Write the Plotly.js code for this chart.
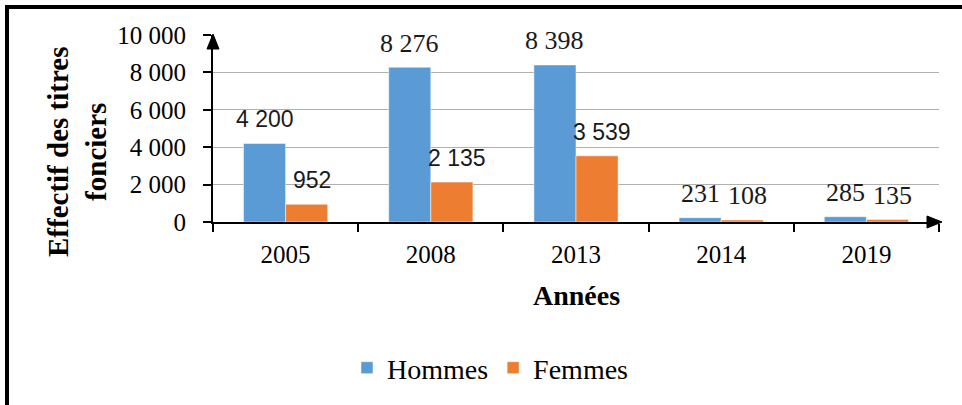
<!DOCTYPE html>
<html>
<head>
<meta charset="utf-8">
<script src="https://cdn.plot.ly/plotly-3.0.1.min.js"></script>
<style>
  html, body { margin: 0; padding: 0; background: #fff; }
  #chart { width: 962px; height: 405px; }
</style>
</head>
<body>
<div id="chart"></div>
<script>
// ---- data ----
const years = ['2005', '2008', '2013', '2014', '2019'];
const hommes = [4200, 8276, 8398, 231, 285];
const femmes = [952, 2135, 3539, 108, 135];
const yTickVals = [0, 2000, 4000, 6000, 8000, 10000];
const seriesNames = ['Hommes', 'Femmes'];
const yTitle = 'Effectif des titres<br>fonciers';
const xTitle = 'Années';

// ---- styles ----
const colors = ['#5B9BD5', '#ED7D31'];
const SERIF = 'Liberation Serif, Times New Roman, serif';
const SANS = 'Liberation Sans, Arial, sans-serif';
// label font per point (style, not data)
const labelFamH = [SANS, SERIF, SERIF, SERIF, SERIF];
const labelFamF = [SANS, SANS, SANS, SERIF, SERIF];

// ---- geometry ----
const FW = 962, FH = 405;
const L = 213, R = 23, T = 35, B = 183;
const PW = FW - L - R, PH = FH - T - B;
const px2x = px => (px - L) / PW;
const py2y = py => (FH - B - py) / PH;
const bargap = 0.42;
const barHalf = PW / years.length * (1 - bargap) / 4;

function fmt(v) {
  return String(v).replace(/\B(?=(\d{3})+(?!\d))/g, ' ');
}

const traces = [
  { type: 'bar', name: seriesNames[0], x: years, y: hommes,
    marker: { color: colors[0], line: { color: '#ffffff', width: 0.5 } } },
  { type: 'bar', name: seriesNames[1], x: years, y: femmes,
    marker: { color: colors[1], line: { color: '#ffffff', width: 0.5 } } }
];

const annotations = [];
[[hommes, -1, labelFamH, 0], [femmes, 1, labelFamF, 5]].forEach(([vals, side, fams, dx]) => {
  vals.forEach((v, i) => {
    annotations.push({
      xref: 'x', yref: 'y', x: i, y: v,
      xshift: side * barHalf + dx, yshift: 24,
      xanchor: 'center', yanchor: 'middle',
      text: fmt(v), showarrow: false,
      font: { family: fams[i], size: fams[i] === SANS ? 23 : 26, color: '#1a1a1a' }
    });
  });
});
// y-axis title
annotations.push({
  xref: 'paper', yref: 'paper', x: px2x(77), y: py2y(152),
  xanchor: 'center', yanchor: 'middle', textangle: -90,
  text: '<b>' + yTitle + '</b>', showarrow: false,
  font: { family: SERIF, size: 29, color: '#000' }
});
// x-axis title
annotations.push({
  xref: 'paper', yref: 'paper', x: 0.5, y: py2y(295),
  xanchor: 'center', yanchor: 'middle',
  text: '<b>' + xTitle + '</b>', showarrow: false,
  font: { family: SERIF, size: 28, color: '#000' }
});

const shapes = [
  // frame: top and left thick borders
  { type: 'rect', xref: 'paper', yref: 'paper',
    x0: px2x(5), x1: px2x(962), y0: py2y(5), y1: py2y(9),
    fillcolor: '#000', line: { width: 0 } },
  { type: 'rect', xref: 'paper', yref: 'paper',
    x0: px2x(5), x1: px2x(9), y0: py2y(5), y1: py2y(405),
    fillcolor: '#000', line: { width: 0 } },
  // y-axis arrowhead
  { type: 'path', xref: 'paper', yref: 'paper',
    path: `M ${px2x(207)} ${py2y(49)} L ${px2x(213)} ${py2y(34)} L ${px2x(219)} ${py2y(49)} Z`,
    fillcolor: '#000', line: { color: '#000', width: 1 } },
  // x-axis arrowhead
  { type: 'path', xref: 'paper', yref: 'paper',
    path: `M ${px2x(927)} ${py2y(216)} L ${px2x(942)} ${py2y(222)} L ${px2x(927)} ${py2y(228)} Z`,
    fillcolor: '#000', line: { color: '#000', width: 1 } }
];

const layout = {
  width: FW, height: FH,
  margin: { l: L, r: R, t: T, b: B, pad: 0 },
  paper_bgcolor: '#ffffff', plot_bgcolor: '#ffffff',
  separators: ', ',
  barmode: 'group', bargap: bargap, bargroupgap: 0,
  showlegend: true,
  legend: {
    orientation: 'h', x: px2x(490), xanchor: 'center',
    y: py2y(368), yanchor: 'middle',
    font: { family: SERIF, size: 28, color: '#000' },
    traceorder: 'normal'
  },
  xaxis: {
    type: 'category', categoryorder: 'array', categoryarray: years,
    range: [-0.5, years.length - 0.5], autorange: false,
    tickson: 'boundaries', tickangle: 0,
    showline: true, linecolor: '#000', linewidth: 2,
    ticks: 'outside', ticklen: 8, tickwidth: 2, tickcolor: '#000',
    ticklabelstandoff: 9,
    tickfont: { family: SERIF, size: 25, color: '#000' },
    showgrid: false, zeroline: false, fixedrange: true
  },
  yaxis: {
    range: [0, 10000], autorange: false, tickvals: yTickVals, tickformat: ',d',
    showline: true, linecolor: '#000', linewidth: 2,
    ticks: 'outside', ticklen: 8, tickwidth: 2, tickcolor: '#000',
    ticklabelstandoff: 12,
    tickfont: { family: SERIF, size: 25, color: '#000' },
    showgrid: true, gridcolor: '#b0b0b0', gridwidth: 1,
    zeroline: false, fixedrange: true
  },
  annotations: annotations,
  shapes: shapes
};

Plotly.newPlot('chart', traces, layout, { staticPlot: true, displayModeBar: false });
</script>
</body>
</html>
